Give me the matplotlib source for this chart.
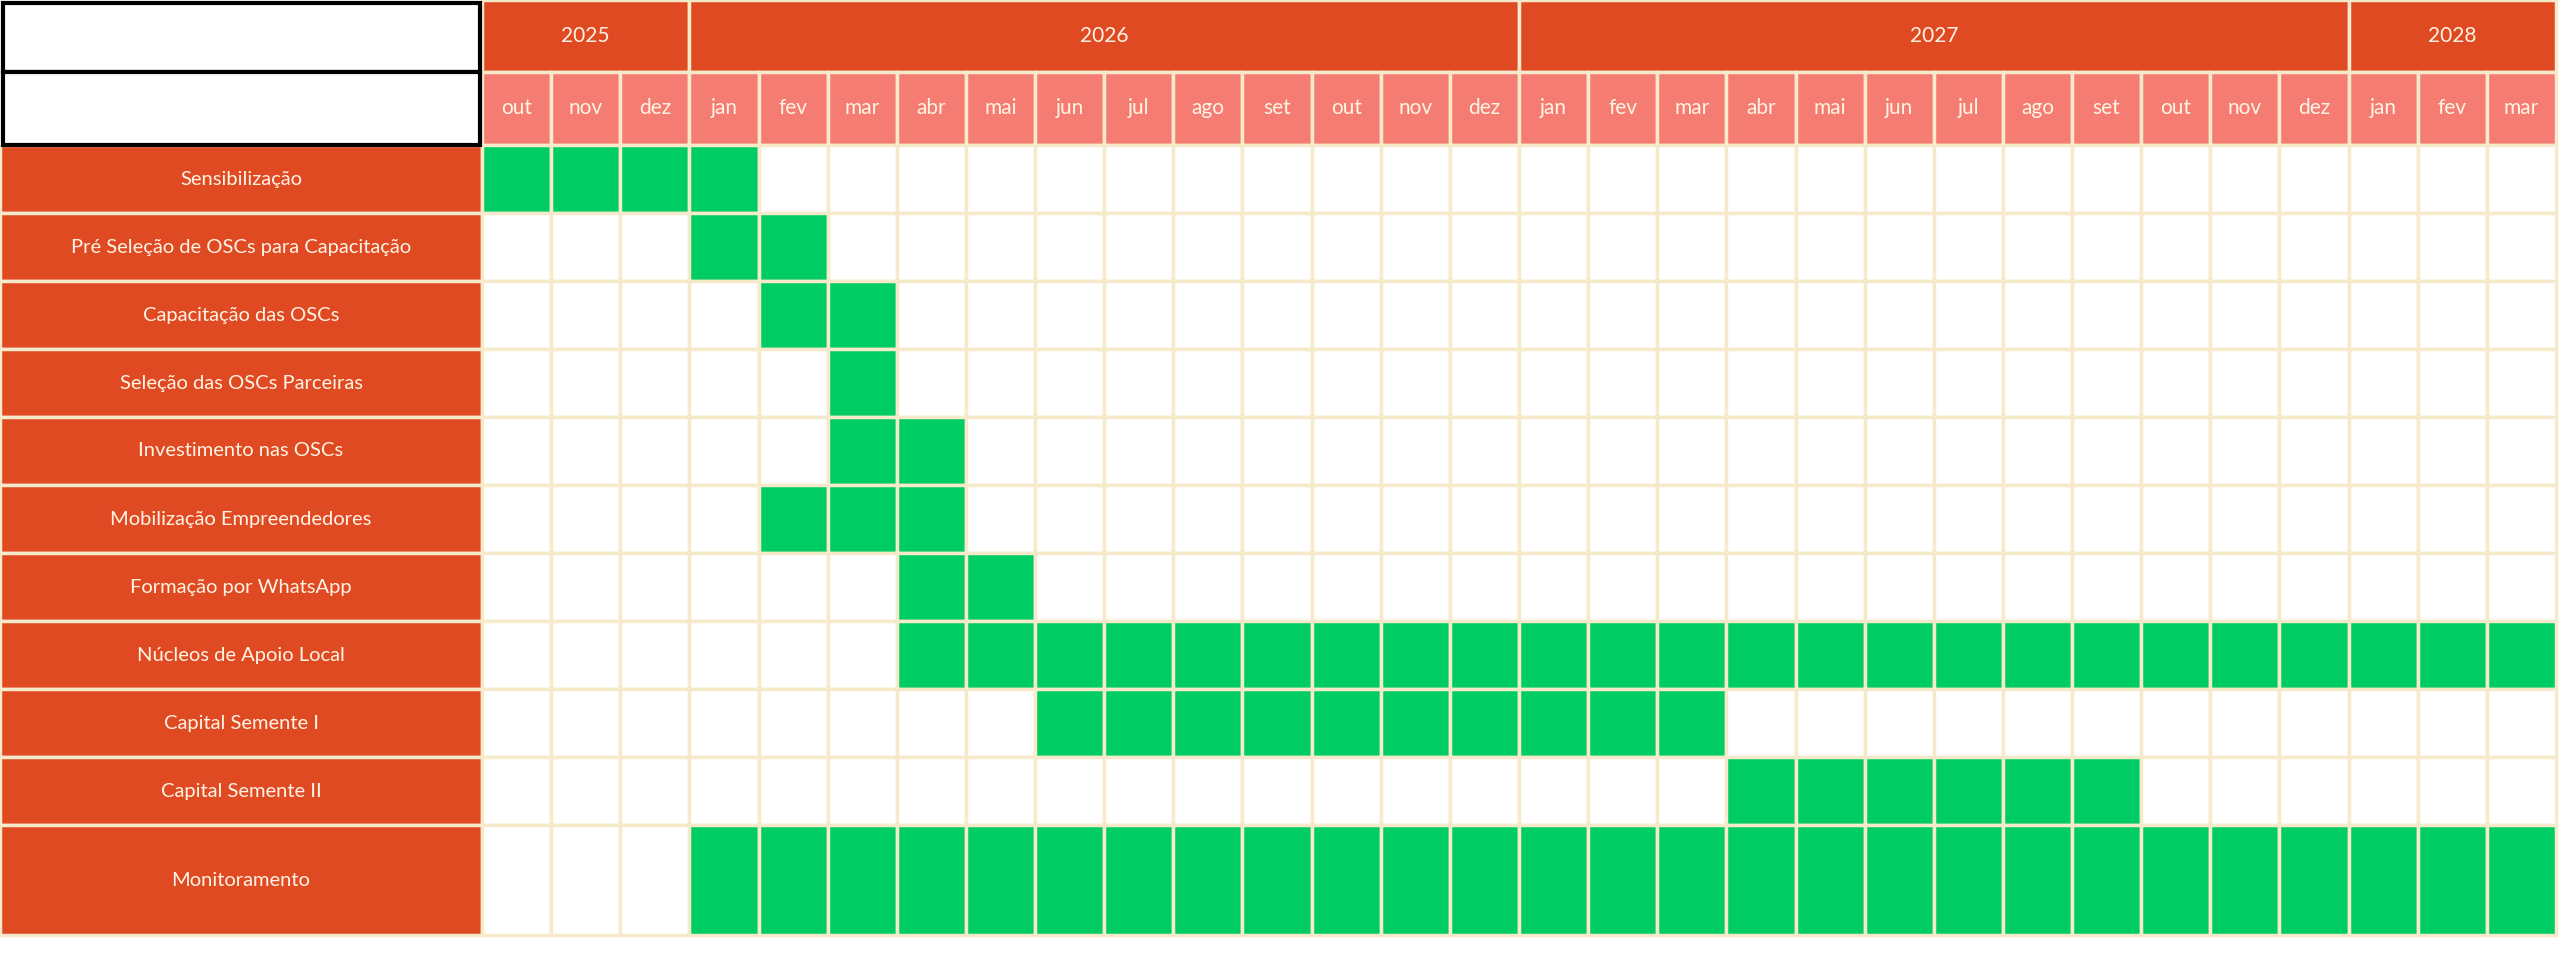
import matplotlib.pyplot as plt
from matplotlib.patches import Rectangle

plt.rcParams['font.family'] = ['Lato', 'DejaVu Sans']

years = ["2025", "2026", "2027", "2028"]
year_months = [3, 12, 12, 3]
months = ["out", "nov", "dez",
          "jan", "fev", "mar", "abr", "mai", "jun", "jul", "ago", "set", "out", "nov", "dez",
          "jan", "fev", "mar", "abr", "mai", "jun", "jul", "ago", "set", "out", "nov", "dez",
          "jan", "fev", "mar"]
tasks = ["Sensibilização", "Pré Seleção de OSCs para Capacitação", "Capacitação das OSCs",
         "Seleção das OSCs Parceiras", "Investimento nas OSCs", "Mobilização Empreendedores",
         "Formação por WhatsApp", "Núcleos de Apoio Local", "Capital Semente I",
         "Capital Semente II", "Monitoramento"]
# first and last month index (0 = out/2025) of each task
start = [0, 3, 4, 5, 5, 4, 6, 6, 8, 18, 3]
end = [3, 4, 5, 5, 6, 6, 7, 29, 17, 23, 29]

RED = "#E04A23"
SALMON = "#F47C72"
GREEN = "#00CC66"
GRID = "#F7EACB"
TXT = "#FFF4E4"

label_w = 482
col_w = (2556 - label_w) / len(months)
head_h = [72, 73]
row_h = [68] * 10 + [110]

fig = plt.figure(figsize=(25.6, 9.6), dpi=100)
ax = fig.add_axes([0, 0, 1, 1])
ax.set_xlim(0, 2560)
ax.set_ylim(960, 0)
ax.axis("off")

def cell(x, y, w, h, fc, ec=GRID, lw=2.5):
    ax.add_patch(Rectangle((x, y), w, h, facecolor=fc, edgecolor=ec, linewidth=lw))

# header
ax.add_patch(Rectangle((3, 3), label_w - 5, head_h[0] - 3, facecolor="white", edgecolor="black", linewidth=3, zorder=3))
ax.add_patch(Rectangle((3, head_h[0]), label_w - 5, head_h[1], facecolor="white", edgecolor="black", linewidth=3, zorder=3))
c = 0
for yr, n in zip(years, year_months):
    x = label_w + c * col_w
    cell(x, 0, n * col_w, head_h[0], RED)
    ax.text(x + n * col_w / 2, head_h[0] / 2, yr, ha="center", va="center", color=TXT, fontsize=15)
    c += n
for i, m in enumerate(months):
    x = label_w + i * col_w
    cell(x, head_h[0], col_w, head_h[1], SALMON)
    ax.text(x + col_w / 2, head_h[0] + head_h[1] / 2, m, ha="center", va="center", color=TXT, fontsize=15)

# rows
y = sum(head_h)
for t, s, e, h in zip(tasks, start, end, row_h):
    cell(0, y, label_w, h, RED)
    ax.text(label_w / 2, y + h / 2, t, ha="center", va="center", color=TXT, fontsize=14.5)
    for i in range(len(months)):
        fc = GREEN if s <= i <= e else "white"
        cell(label_w + i * col_w, y, col_w, h, fc)
    y += h

fig.savefig("out.png", dpi=100, facecolor="white")
